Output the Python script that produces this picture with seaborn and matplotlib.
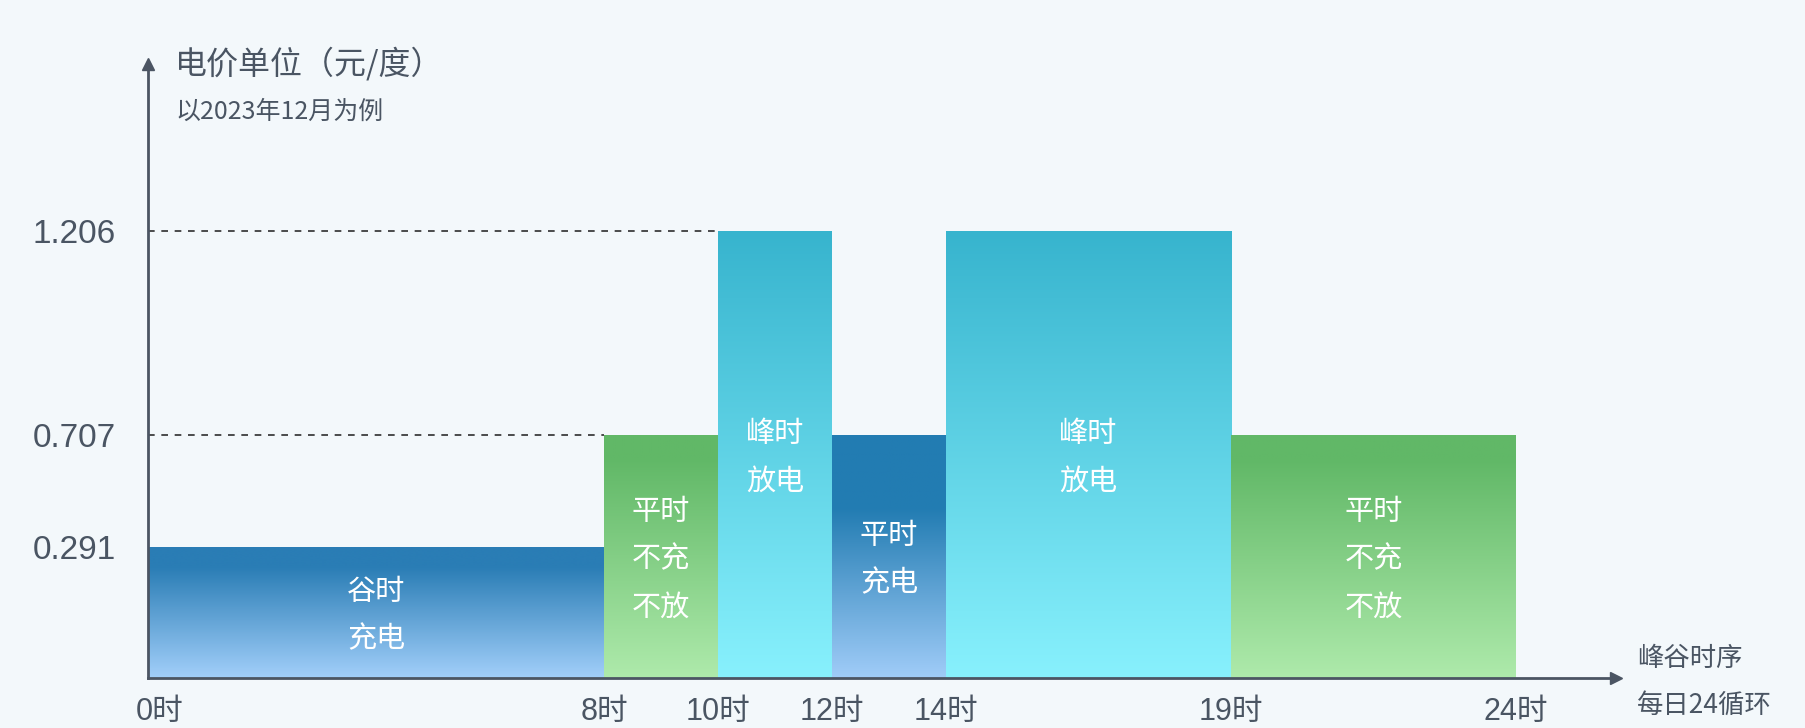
import numpy as np
import pandas as pd
import matplotlib
matplotlib.use('Agg')
import matplotlib.pyplot as plt
import matplotlib.colors as mcolors
import matplotlib.transforms as mtransforms
import seaborn as sns

# ---------------------------------------------------------------- data
hours = [0, 8, 10, 12, 14, 19, 24]
prices = [0.291, 0.707, 1.206, 0.707, 1.206, 0.707]
kinds = ['valley', 'flat', 'peak', 'flat_charge', 'peak', 'flat']
bar_texts = ['谷时\n充电', '平时\n不充\n不放', '峰时\n放电',
             '平时\n充电', '峰时\n放电', '平时\n不充\n不放']
title = '电价单位（元/度）'
subtitle = '以2023年12月为例'
xlabel_lines = ['峰谷时序', '每日24循环']

# gradient colours: top, bottom, fraction of the bar kept solid at the top
bar_colors = {
    'valley': ('#2a7db5', '#a2cffa', 0.15),
    'flat': ('#61b867', '#aeeaab', 0.10),
    'peak': ('#37b4ce', '#88f1fd', 0.0),
    'flat_charge': ('#227cb2', '#a0ccf8', 0.30),
}
bg = '#f3f8fb'
txt = '#4a5563'
axc = '#4b5563'

df = pd.DataFrame({'start': hours[:-1], 'end': hours[1:], 'price': prices,
                   'kind': kinds, 'text': bar_texts})
df['mid'] = (df.start + df.end) / 2

# -------------------------------------------------------------- figure
sns.set_style('white')
plt.rcParams['font.family'] = ['Liberation Sans', 'Noto Sans CJK SC']
cjk = ['Noto Sans CJK SC', 'DejaVu Sans']

W, H = 1805, 728
fig = plt.figure(figsize=(W / 100, H / 100), dpi=100, facecolor=bg)
ax = fig.add_axes([148 / W, 50 / H, 1468 / W, 614 / H])
ax.set_facecolor(bg)

sns.histplot(data=df, x='mid', weights='price', bins=hours, ax=ax,
             linewidth=0, element='bars')

# the original draws the price levels on a schematic (non linear) axis
scale_vals = [0, 0.291, 0.707, 1.206, 2.0]
scale_px = [0, 131, 243, 447, 772]
fwd = lambda v: np.interp(v, scale_vals, scale_px)
inv = lambda p: np.interp(p, scale_px, scale_vals)
ax.set_yscale('function', functions=(fwd, inv))
ax.set_ylim(0, inv(614))
ax.set_xlim(0, 1468 / 57)

ax.set_xticks(hours, [f'{h}时' for h in hours])
levels = sorted(set(prices))
ax.set_yticks(levels, [f'{v:.3f}' for v in levels])
ax.tick_params(axis='both', length=0, colors=txt)
ax.tick_params(axis='y', pad=23, labelsize=24)
ax.tick_params(axis='x', pad=14, labelsize=22)
ax.set_xlabel('')
ax.set_ylabel('')
ax.grid(False)
# "0时" sits a little right of the axis corner
first = ax.get_xticklabels()[0]
first.set_transform(first.get_transform() +
                    mtransforms.ScaledTranslation(0.12, 0, fig.dpi_scale_trans))

sns.despine(ax=ax)
for s in ['left', 'bottom']:
    ax.spines[s].set_color(axc)
    ax.spines[s].set_linewidth(2)
ax.plot([0], [1], marker='^', ms=8, color=axc, transform=ax.transAxes, clip_on=False)
ax.plot([1], [0], marker='>', ms=8, color=axc, transform=ax.transAxes, clip_on=False)

# dashed guides up to the first bar at that price
for v in levels:
    start = df.loc[df.price == v, 'start'].min()
    if start > 0:
        ax.hlines(v, 0, start, colors='#2e2e2e', linestyles=(0, (4, 4)), lw=1.2, zorder=1)

# gradient fills + labels
to_axes = ax.transAxes.inverted()
bars = sorted(ax.patches, key=lambda p: p.get_x())
t = np.linspace(0, 1, 256)
for p, row in zip(bars, df.itertuples()):
    bb = p.get_window_extent()
    (x0, y0), (x1, y1) = to_axes.transform([[bb.x0, bb.y0], [bb.x1, bb.y1]])
    top, bottom, hold = bar_colors[row.kind]
    tt = np.clip((t - hold) / (1 - hold), 0, 1)
    c0 = np.array(mcolors.to_rgb(top))
    c1 = np.array(mcolors.to_rgb(bottom))
    grad = c0 + (c1 - c0) * tt[:, None]
    img = ax.imshow(grad[:, None, :], extent=(x0, x1, y0, y1), transform=ax.transAxes,
                    aspect='auto', origin='upper', interpolation='bilinear', zorder=1.5)
    img.set_clip_path(p)
    p.set_facecolor('none')
    p.set_edgecolor('none')

    cx, cy = (x0 + x1) / 2, (y0 + y1) / 2
    lines = row.text.split('\n')
    n = len(lines)
    for i, line in enumerate(lines):
        ax.annotate(line, (cx, cy), xycoords='axes fraction',
                    xytext=(0, ((n - 1) / 2 - i) * 48 - 3), textcoords='offset pixels',
                    ha='center', va='center', color='white', fontsize=21,
                    family=cjk, zorder=3)

fig.text(175 / W, 1 - 64 / H, title, ha='left', va='center', fontsize=23,
         fontweight='medium', color=txt, family=cjk)
fig.text(176 / W, 1 - 112 / H, subtitle, ha='left', va='center', fontsize=18,
         color=txt, family=cjk)
for i, line in enumerate(xlabel_lines):
    fig.text(1637 / W, 1 - (658 + 47 * i) / H, line, ha='left', va='center',
             fontsize=19, color=txt, family=cjk)

fig.savefig('out.png', dpi=100, facecolor=bg)
